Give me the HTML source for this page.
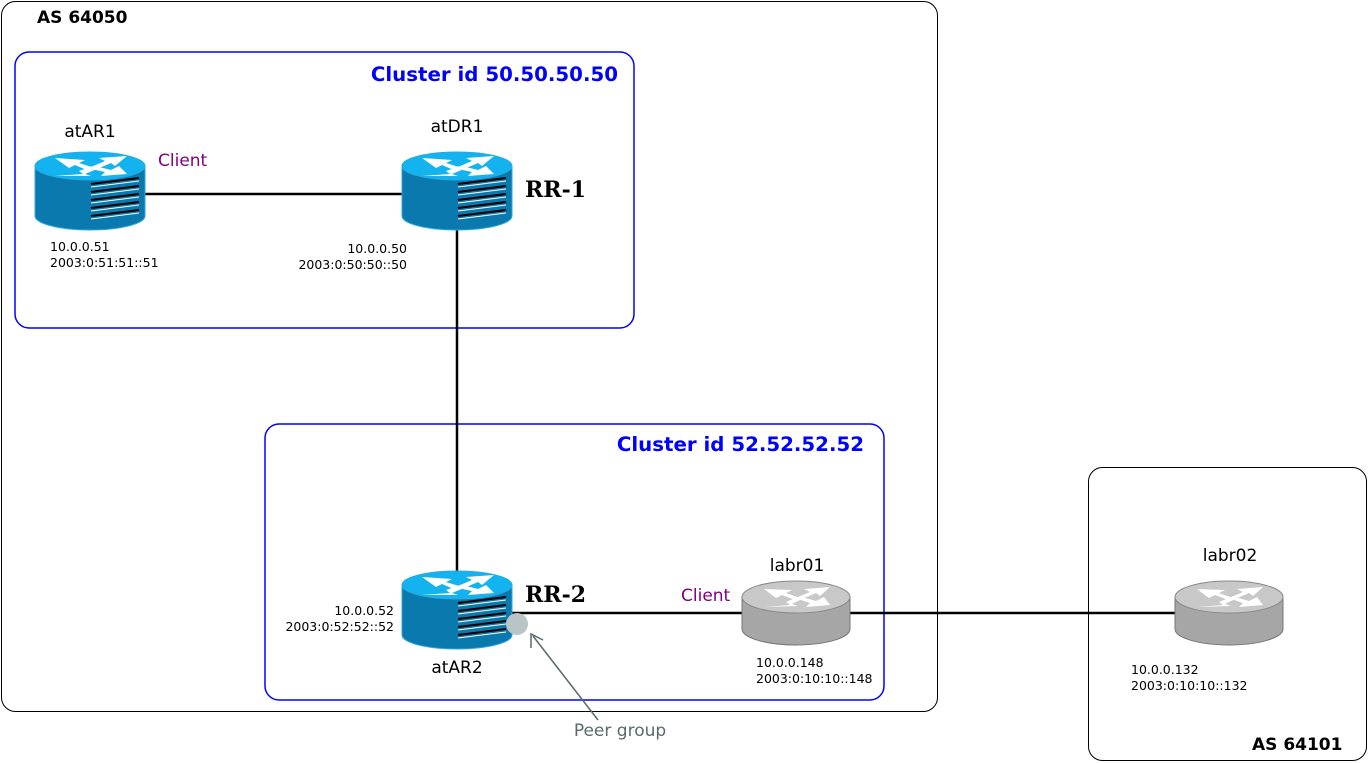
<!DOCTYPE html>
<html><head><meta charset="utf-8"><style>
html,body{margin:0;padding:0;background:#fff;}
svg{display:block;font-family:"DejaVu Sans","Liberation Sans",sans-serif;}
</style></head><body>
<svg width="1368" height="763" viewBox="0 0 1368 763" xmlns="http://www.w3.org/2000/svg">
<defs>
<g id="br">
  <path d="M0,14 L0,64 A55,14 0 0 0 110,64 L110,14 Z" fill="#0a79ad" stroke="#2aa8e0" stroke-width="1"/>
  <ellipse cx="55" cy="14" rx="55" ry="14" fill="#13b3ef" stroke="#2aa8e0"/>
  <g fill="#fff">
    <polygon points="20,6 50,8 44,11 60,16 54,19 40,13 34,16"/>
    <polygon points="92,4 64,6 70,9 56,15 62,17 76,11 80,14"/>
    <polygon points="20,24 48,22 44,19 58,14 62,17 50,22 56,24"/>
    <polygon points="92,22 66,24 70,20 56,17 60,14 76,18 84,14"/>
  </g>
  <g stroke="#000" stroke-width="2">
    <line x1="56" y1="32" x2="104" y2="26"/><line x1="56" y1="40" x2="104" y2="34"/>
    <line x1="56" y1="48" x2="104" y2="42"/><line x1="56" y1="56" x2="104" y2="50"/>
    <line x1="56" y1="64" x2="104" y2="58"/>
  </g>
  <g stroke="#fff" stroke-width="1">
    <line x1="56" y1="35" x2="104" y2="29"/><line x1="56" y1="43" x2="104" y2="37"/>
    <line x1="56" y1="51" x2="104" y2="45"/><line x1="56" y1="59" x2="104" y2="53"/>
    <line x1="56" y1="67" x2="104" y2="61"/>
  </g>
</g>
<g id="gr">
  <path d="M0,16 L0,48 A54,16 0 0 0 108,48 L108,16 Z" fill="#a6a6a6" stroke="#777"/>
  <ellipse cx="54" cy="16" rx="54" ry="16" fill="#c8c8c8" stroke="#888"/>
  <g fill="#fff">
    <polygon points="22,8 50,9 44,12 58,17 53,19 40,14 34,17"/>
    <polygon points="88,6 62,8 68,11 56,16 60,18 74,12 78,15"/>
    <polygon points="22,26 48,24 44,21 56,16 60,18 50,23 56,25"/>
    <polygon points="88,24 64,26 68,22 56,18 60,16 74,20 82,16"/>
  </g>
</g>
</defs>
<rect x="1.5" y="1.5" width="936" height="710" rx="14" fill="none" stroke="#000"/>
<rect x="1088.5" y="467.5" width="278" height="293" rx="14" fill="none" stroke="#000"/>
<rect x="15" y="52" width="619" height="276" rx="14" fill="none" stroke="#0000ff" stroke-width="1.5"/>
<rect x="265" y="424" width="619" height="276" rx="14" fill="none" stroke="#0000ff" stroke-width="1.5"/>
<text x="37" y="23" font-weight="bold" font-size="17">AS 64050</text>
<text x="1252" y="750" font-weight="bold" font-size="17">AS 64101</text>
<text x="618" y="81" text-anchor="end" font-weight="bold" font-size="19.8" fill="#0000ff">Cluster id 50.50.50.50</text>
<text x="864" y="451" text-anchor="end" font-weight="bold" font-size="19.8" fill="#0000ff">Cluster id 52.52.52.52</text>
<g stroke="#000" stroke-width="2.5">
<line x1="145" y1="194" x2="402" y2="194"/>
<line x1="457" y1="230" x2="457" y2="575"/>
<line x1="512" y1="613" x2="742" y2="613"/>
<line x1="850" y1="613" x2="1176" y2="613"/>
</g>
<use href="#br" x="35" y="152"/>
<use href="#br" x="402" y="152"/>
<use href="#br" x="402" y="571"/>
<use href="#gr" x="742" y="581"/>
<use href="#gr" x="1175" y="581"/>
<circle cx="517" cy="624" r="11" fill="#b8c4c6"/>
<line x1="598" y1="720" x2="533" y2="636" stroke="#5a6a6a" stroke-width="1.5"/>
<polyline points="531,648 531,634 543,640" fill="none" stroke="#5a6a6a" stroke-width="1.5"/>
<text x="620" y="736" text-anchor="middle" font-size="17" fill="#5a6a6a">Peer group</text>
<g font-size="17">
<text x="90" y="137" text-anchor="middle">atAR1</text>
<text x="457" y="132" text-anchor="middle">atDR1</text>
<text x="457" y="673" text-anchor="middle">atAR2</text>
<text x="797" y="571" text-anchor="middle">labr01</text>
<text x="1230" y="561" text-anchor="middle">labr02</text>
<text x="158" y="166" fill="#800080">Client</text>
<text x="681" y="601" fill="#800080">Client</text>
</g>
<g font-family="'DejaVu Serif','Liberation Serif',serif" font-weight="bold" font-size="22">
<text x="525" y="197">RR-1</text>
<text x="525" y="602">RR-2</text>
</g>
<g font-size="12.5">
<text x="50" y="251">10.0.0.51</text><text x="50" y="267">2003:0:51:51::51</text>
<text x="407" y="253" text-anchor="end">10.0.0.50</text><text x="407" y="269" text-anchor="end">2003:0:50:50::50</text>
<text x="394" y="615" text-anchor="end">10.0.0.52</text><text x="394" y="631" text-anchor="end">2003:0:52:52::52</text>
<text x="756" y="667">10.0.0.148</text><text x="756" y="683">2003:0:10:10::148</text>
<text x="1131" y="674">10.0.0.132</text><text x="1131" y="690">2003:0:10:10::132</text>
</g>
</svg>
</body></html>
